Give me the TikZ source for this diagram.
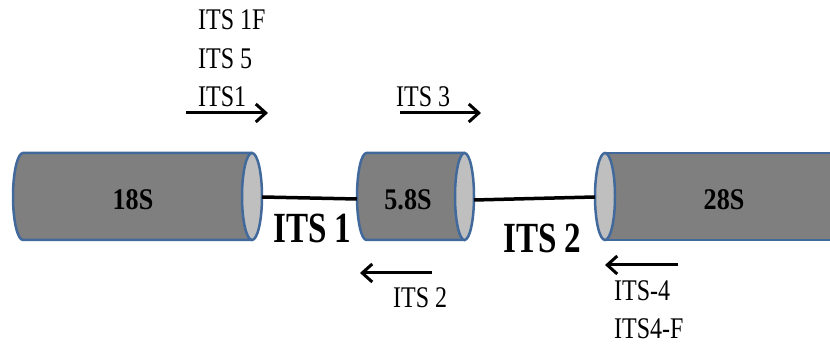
\documentclass[tikz,border=0pt]{standalone}
\usepackage{fontspec}
\setmainfont{Liberation Serif}
\usetikzlibrary{arrows.meta}
\definecolor{rim}{HTML}{41699C}
\definecolor{bodygray}{HTML}{7F7F7F}
\definecolor{capgray}{HTML}{BFBFBF}
\newcommand{\hsq}[2]{\scalebox{#1}[1]{#2}}
\begin{document}
\begin{tikzpicture}[x=1pt,y=1pt,
  rimline/.style={draw=rim,line width=2.5pt},
  bodyfill/.style={fill=bodygray},
  capfill/.style={fill=capgray,draw=rim,line width=2.5pt},
  lbl/.style={anchor=base west,inner sep=0pt,font=\fontsize{30}{36}\selectfont},
  biglbl/.style={anchor=base west,inner sep=0pt,font=\fontsize{43}{50}\selectfont\bfseries},
  rnalbl/.style={anchor=base,inner sep=0pt,font=\fontsize{30}{36}\selectfont\bfseries},
  primer/.style={line width=3pt,-{Straight Barb[length=10pt,width=18pt]}},
  link/.style={line width=3.5pt}]
\useasboundingbox (0,0) rectangle (830,344);
\clip (0,0) rectangle (830,344);
% 18S cylinder
\draw[rimline,bodyfill] (252,191) -- (23,191) arc[start angle=90,end angle=270,x radius=10,y radius=43.5] -- (252,104);
\draw[capfill] (252,147.5) ellipse [x radius=10,y radius=43.5];
% 5.8S cylinder
\draw[rimline,bodyfill] (464.5,191) -- (366.5,191) arc[start angle=90,end angle=270,x radius=9.5,y radius=43.5] -- (464.5,104);
\draw[capfill] (464.5,147.5) ellipse [x radius=9.5,y radius=43.5];
% 28S cylinder
\draw[rimline,bodyfill] (605,191) -- (850,191) -- (850,104) -- (605,104);
\draw[capfill] (605,147.5) ellipse [x radius=10,y radius=43.5];
% cylinder labels
\node[rnalbl] (t18) at (133,134) {\hsq{0.87}{18S}};
\node[rnalbl] (t58) at (408,134) {\hsq{0.87}{5.8S}};
\node[rnalbl] (t28) at (724,134) {\hsq{0.87}{28S}};
% connectors
\coordinate (c18r) at (262,147);
\coordinate (c58l) at (357,145);
\coordinate (c58r) at (474,144);
\coordinate (c28l) at (595,147);
\draw[link] (c18r) -- (c58l);
\draw[link] (c58r) -- (c28l);
% region labels
\node[biglbl] (its1) at (273,101) {\hsq{0.77}{ITS 1}};
\node[biglbl] (its2) at (503,91) {\hsq{0.77}{ITS 2}};
% primer labels
\node[lbl] (p1f) at (198,314) {\hsq{0.8}{ITS 1F}};
\node[lbl] (p5) at (198,275.5) {\hsq{0.8}{ITS 5}};
\node[lbl] (p1) at (198,237) {\hsq{0.8}{ITS1}};
\node[lbl] (p3) at (396,237) {\hsq{0.8}{ITS 3}};
\node[lbl] (p2) at (393,36) {\hsq{0.8}{ITS 2}};
\node[lbl] (p4) at (614,43) {\hsq{0.8}{ITS-4}};
\node[lbl] (p4f) at (614,5) {\hsq{0.8}{ITS4-F}};
% primer arrows
\coordinate (a1s) at (186,231); \coordinate (a1e) at (268,231);
\coordinate (a2s) at (400,231); \coordinate (a2e) at (481,231);
\coordinate (a3s) at (432,71);  \coordinate (a3e) at (360,71);
\coordinate (a4s) at (678,79);  \coordinate (a4e) at (605,79);
\draw[primer] (a1s) -- (a1e);
\draw[primer] (a2s) -- (a2e);
\draw[primer] (a3s) -- (a3e);
\draw[primer] (a4s) -- (a4e);
\end{tikzpicture}
\end{document}
